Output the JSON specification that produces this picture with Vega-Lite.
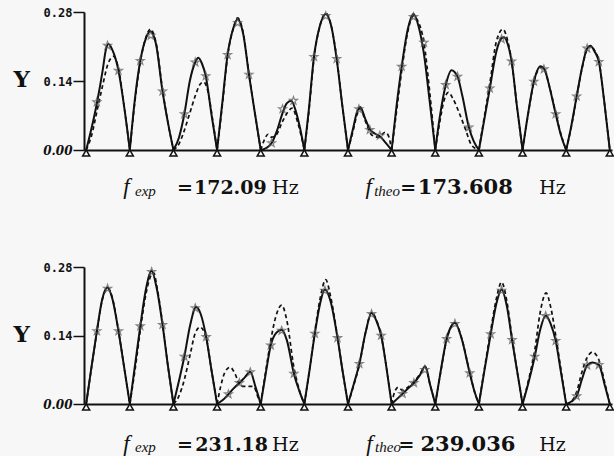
{
 "$schema": "https://vega.github.io/schema/vega-lite/v6.json",
 "background": "#f7f7f7",
 "padding": {"left": 13, "top": 6, "right": 0, "bottom": 0},
 "bounds": "flush",
 "spacing": 117,
 "config": {"view": {"stroke": null}},
 "datasets": {
  "topCurves": [
   {"s":"S","a":1,"x":0,"y":0},{"s":"S","a":1,"x":0.125,"y":0.045},{"s":"S","a":1,"x":0.25,"y":0.097},{"s":"S","a":1,"x":0.375,"y":0.16},{"s":"S","a":1,"x":0.45,"y":0.203},{"s":"S","a":1,"x":0.51,"y":0.215},{"s":"S","a":1,"x":0.6,"y":0.203},{"s":"S","a":1,"x":0.74,"y":0.161},{"s":"S","a":1,"x":0.875,"y":0.085},{"s":"S","a":1,"x":1,"y":0},
   {"s":"S","a":2,"x":1,"y":0},{"s":"S","a":2,"x":1.125,"y":0.11},{"s":"S","a":2,"x":1.24,"y":0.181},{"s":"S","a":2,"x":1.375,"y":0.228},{"s":"S","a":2,"x":1.47,"y":0.241},{"s":"S","a":2,"x":1.6,"y":0.215},{"s":"S","a":2,"x":1.75,"y":0.119},{"s":"S","a":2,"x":1.875,"y":0.055},{"s":"S","a":2,"x":2,"y":0},
   {"s":"S","a":3,"x":2,"y":0},{"s":"S","a":3,"x":2.125,"y":0.025},{"s":"S","a":3,"x":2.25,"y":0.073},{"s":"S","a":3,"x":2.375,"y":0.14},{"s":"S","a":3,"x":2.5,"y":0.178},{"s":"S","a":3,"x":2.57,"y":0.187},{"s":"S","a":3,"x":2.65,"y":0.176},{"s":"S","a":3,"x":2.74,"y":0.15},{"s":"S","a":3,"x":2.875,"y":0.07},{"s":"S","a":3,"x":3,"y":0},
   {"s":"S","a":4,"x":3,"y":0},{"s":"S","a":4,"x":3.125,"y":0.1},{"s":"S","a":4,"x":3.24,"y":0.193},{"s":"S","a":4,"x":3.375,"y":0.248},{"s":"S","a":4,"x":3.47,"y":0.266},{"s":"S","a":4,"x":3.6,"y":0.235},{"s":"S","a":4,"x":3.73,"y":0.153},{"s":"S","a":4,"x":3.875,"y":0.07},{"s":"S","a":4,"x":4,"y":0},
   {"s":"S","a":5,"x":4,"y":0},{"s":"S","a":5,"x":4.125,"y":0.004},{"s":"S","a":5,"x":4.25,"y":0.014},{"s":"S","a":5,"x":4.375,"y":0.04},{"s":"S","a":5,"x":4.5,"y":0.075},{"s":"S","a":5,"x":4.6,"y":0.095},{"s":"S","a":5,"x":4.7,"y":0.1},{"s":"S","a":5,"x":4.8,"y":0.08},{"s":"S","a":5,"x":4.9,"y":0.045},{"s":"S","a":5,"x":5,"y":0},
   {"s":"S","a":6,"x":5,"y":0},{"s":"S","a":6,"x":5.1,"y":0.08},{"s":"S","a":6,"x":5.22,"y":0.189},{"s":"S","a":6,"x":5.35,"y":0.25},{"s":"S","a":6,"x":5.49,"y":0.276},{"s":"S","a":6,"x":5.62,"y":0.25},{"s":"S","a":6,"x":5.74,"y":0.185},{"s":"S","a":6,"x":5.87,"y":0.09},{"s":"S","a":6,"x":6,"y":0},
   {"s":"S","a":7,"x":6,"y":0},{"s":"S","a":7,"x":6.12,"y":0.045},{"s":"S","a":7,"x":6.2,"y":0.075},{"s":"S","a":7,"x":6.28,"y":0.087},{"s":"S","a":7,"x":6.4,"y":0.062},{"s":"S","a":7,"x":6.5,"y":0.042},{"s":"S","a":7,"x":6.62,"y":0.033},{"s":"S","a":7,"x":6.73,"y":0.028},{"s":"S","a":7,"x":6.86,"y":0.015},{"s":"S","a":7,"x":7,"y":0},
   {"s":"S","a":8,"x":7,"y":0},{"s":"S","a":8,"x":7.1,"y":0.08},{"s":"S","a":8,"x":7.23,"y":0.169},{"s":"S","a":8,"x":7.37,"y":0.245},{"s":"S","a":8,"x":7.5,"y":0.276},{"s":"S","a":8,"x":7.62,"y":0.25},{"s":"S","a":8,"x":7.74,"y":0.195},{"s":"S","a":8,"x":7.87,"y":0.1},{"s":"S","a":8,"x":8,"y":0},
   {"s":"S","a":9,"x":8,"y":0},{"s":"S","a":9,"x":8.1,"y":0.065},{"s":"S","a":9,"x":8.24,"y":0.132},{"s":"S","a":9,"x":8.37,"y":0.162},{"s":"S","a":9,"x":8.51,"y":0.149},{"s":"S","a":9,"x":8.62,"y":0.11},{"s":"S","a":9,"x":8.77,"y":0.046},{"s":"S","a":9,"x":8.88,"y":0.018},{"s":"S","a":9,"x":9,"y":0},
   {"s":"S","a":10,"x":9,"y":0},{"s":"S","a":10,"x":9.12,"y":0.06},{"s":"S","a":10,"x":9.25,"y":0.125},{"s":"S","a":10,"x":9.4,"y":0.2},{"s":"S","a":10,"x":9.52,"y":0.227},{"s":"S","a":10,"x":9.58,"y":0.229},{"s":"S","a":10,"x":9.66,"y":0.215},{"s":"S","a":10,"x":9.75,"y":0.18},{"s":"S","a":10,"x":9.87,"y":0.09},{"s":"S","a":10,"x":10,"y":0},
   {"s":"S","a":11,"x":10,"y":0},{"s":"S","a":11,"x":10.12,"y":0.07},{"s":"S","a":11,"x":10.26,"y":0.139},{"s":"S","a":11,"x":10.41,"y":0.17},{"s":"S","a":11,"x":10.5,"y":0.164},{"s":"S","a":11,"x":10.62,"y":0.127},{"s":"S","a":11,"x":10.76,"y":0.073},{"s":"S","a":11,"x":10.88,"y":0.03},{"s":"S","a":11,"x":11,"y":0},
   {"s":"S","a":12,"x":11,"y":0},{"s":"S","a":12,"x":11.12,"y":0.05},{"s":"S","a":12,"x":11.24,"y":0.109},{"s":"S","a":12,"x":11.37,"y":0.17},{"s":"S","a":12,"x":11.48,"y":0.206},{"s":"S","a":12,"x":11.56,"y":0.211},{"s":"S","a":12,"x":11.65,"y":0.2},{"s":"S","a":12,"x":11.75,"y":0.179},{"s":"S","a":12,"x":11.87,"y":0.1},{"s":"S","a":12,"x":12,"y":0},
   {"s":"D","a":1,"x":0,"y":0},{"s":"D","a":1,"x":0.125,"y":0.03},{"s":"D","a":1,"x":0.25,"y":0.08},{"s":"D","a":1,"x":0.375,"y":0.13},{"s":"D","a":1,"x":0.5,"y":0.175},{"s":"D","a":1,"x":0.63,"y":0.19},{"s":"D","a":1,"x":0.74,"y":0.165},{"s":"D","a":1,"x":0.875,"y":0.085},{"s":"D","a":1,"x":1,"y":0},
   {"s":"D","a":2,"x":1,"y":0},{"s":"D","a":2,"x":1.125,"y":0.105},{"s":"D","a":2,"x":1.24,"y":0.178},{"s":"D","a":2,"x":1.375,"y":0.23},{"s":"D","a":2,"x":1.47,"y":0.245},{"s":"D","a":2,"x":1.6,"y":0.218},{"s":"D","a":2,"x":1.75,"y":0.122},{"s":"D","a":2,"x":1.875,"y":0.055},{"s":"D","a":2,"x":2,"y":0},
   {"s":"D","a":3,"x":2,"y":0},{"s":"D","a":3,"x":2.125,"y":0.012},{"s":"D","a":3,"x":2.25,"y":0.04},{"s":"D","a":3,"x":2.375,"y":0.075},{"s":"D","a":3,"x":2.5,"y":0.11},{"s":"D","a":3,"x":2.6,"y":0.132},{"s":"D","a":3,"x":2.69,"y":0.138},{"s":"D","a":3,"x":2.8,"y":0.115},{"s":"D","a":3,"x":2.9,"y":0.06},{"s":"D","a":3,"x":3,"y":0},
   {"s":"D","a":4,"x":3,"y":0},{"s":"D","a":4,"x":3.125,"y":0.095},{"s":"D","a":4,"x":3.24,"y":0.19},{"s":"D","a":4,"x":3.375,"y":0.248},{"s":"D","a":4,"x":3.47,"y":0.268},{"s":"D","a":4,"x":3.6,"y":0.237},{"s":"D","a":4,"x":3.73,"y":0.155},{"s":"D","a":4,"x":3.875,"y":0.07},{"s":"D","a":4,"x":4,"y":0},
   {"s":"D","a":5,"x":4,"y":0},{"s":"D","a":5,"x":4.08,"y":0.02},{"s":"D","a":5,"x":4.17,"y":0.032},{"s":"D","a":5,"x":4.25,"y":0.026},{"s":"D","a":5,"x":4.35,"y":0.03},{"s":"D","a":5,"x":4.5,"y":0.058},{"s":"D","a":5,"x":4.62,"y":0.077},{"s":"D","a":5,"x":4.72,"y":0.085},{"s":"D","a":5,"x":4.85,"y":0.055},{"s":"D","a":5,"x":5,"y":0},
   {"s":"D","a":6,"x":5,"y":0},{"s":"D","a":6,"x":5.1,"y":0.075},{"s":"D","a":6,"x":5.22,"y":0.185},{"s":"D","a":6,"x":5.35,"y":0.25},{"s":"D","a":6,"x":5.5,"y":0.277},{"s":"D","a":6,"x":5.62,"y":0.25},{"s":"D","a":6,"x":5.74,"y":0.187},{"s":"D","a":6,"x":5.87,"y":0.09},{"s":"D","a":6,"x":6,"y":0},
   {"s":"D","a":7,"x":6,"y":0},{"s":"D","a":7,"x":6.12,"y":0.04},{"s":"D","a":7,"x":6.2,"y":0.07},{"s":"D","a":7,"x":6.28,"y":0.084},{"s":"D","a":7,"x":6.4,"y":0.058},{"s":"D","a":7,"x":6.55,"y":0.03},{"s":"D","a":7,"x":6.7,"y":0.026},{"s":"D","a":7,"x":6.85,"y":0.036},{"s":"D","a":7,"x":6.93,"y":0.028},{"s":"D","a":7,"x":7,"y":0},
   {"s":"D","a":8,"x":7,"y":0},{"s":"D","a":8,"x":7.1,"y":0.07},{"s":"D","a":8,"x":7.23,"y":0.16},{"s":"D","a":8,"x":7.37,"y":0.24},{"s":"D","a":8,"x":7.5,"y":0.272},{"s":"D","a":8,"x":7.6,"y":0.262},{"s":"D","a":8,"x":7.74,"y":0.218},{"s":"D","a":8,"x":7.87,"y":0.12},{"s":"D","a":8,"x":8,"y":0},
   {"s":"D","a":9,"x":8,"y":0},{"s":"D","a":9,"x":8.1,"y":0.055},{"s":"D","a":9,"x":8.2,"y":0.1},{"s":"D","a":9,"x":8.3,"y":0.117},{"s":"D","a":9,"x":8.4,"y":0.105},{"s":"D","a":9,"x":8.55,"y":0.075},{"s":"D","a":9,"x":8.7,"y":0.04},{"s":"D","a":9,"x":8.83,"y":0.01},{"s":"D","a":9,"x":9,"y":0},
   {"s":"D","a":10,"x":9,"y":0},{"s":"D","a":10,"x":9.12,"y":0.065},{"s":"D","a":10,"x":9.25,"y":0.135},{"s":"D","a":10,"x":9.4,"y":0.22},{"s":"D","a":10,"x":9.55,"y":0.245},{"s":"D","a":10,"x":9.65,"y":0.225},{"s":"D","a":10,"x":9.75,"y":0.18},{"s":"D","a":10,"x":9.87,"y":0.09},{"s":"D","a":10,"x":10,"y":0},
   {"s":"D","a":11,"x":10,"y":0},{"s":"D","a":11,"x":10.12,"y":0.068},{"s":"D","a":11,"x":10.26,"y":0.137},{"s":"D","a":11,"x":10.41,"y":0.168},{"s":"D","a":11,"x":10.5,"y":0.163},{"s":"D","a":11,"x":10.62,"y":0.128},{"s":"D","a":11,"x":10.76,"y":0.075},{"s":"D","a":11,"x":10.88,"y":0.032},{"s":"D","a":11,"x":11,"y":0},
   {"s":"D","a":12,"x":11,"y":0},{"s":"D","a":12,"x":11.12,"y":0.048},{"s":"D","a":12,"x":11.24,"y":0.107},{"s":"D","a":12,"x":11.37,"y":0.168},{"s":"D","a":12,"x":11.48,"y":0.205},{"s":"D","a":12,"x":11.56,"y":0.212},{"s":"D","a":12,"x":11.65,"y":0.202},{"s":"D","a":12,"x":11.75,"y":0.18},{"s":"D","a":12,"x":11.87,"y":0.1},{"s":"D","a":12,"x":12,"y":0}
  ],
  "botCurves": [
   {"s":"S","a":1,"x":0,"y":0},{"s":"S","a":1,"x":0.12,"y":0.075},{"s":"S","a":1,"x":0.245,"y":0.149},{"s":"S","a":1,"x":0.37,"y":0.215},{"s":"S","a":1,"x":0.49,"y":0.238},{"s":"S","a":1,"x":0.6,"y":0.215},{"s":"S","a":1,"x":0.74,"y":0.149},{"s":"S","a":1,"x":0.87,"y":0.075},{"s":"S","a":1,"x":1,"y":0},
   {"s":"S","a":2,"x":1,"y":0},{"s":"S","a":2,"x":1.12,"y":0.08},{"s":"S","a":2,"x":1.24,"y":0.159},{"s":"S","a":2,"x":1.37,"y":0.235},{"s":"S","a":2,"x":1.5,"y":0.272},{"s":"S","a":2,"x":1.62,"y":0.235},{"s":"S","a":2,"x":1.75,"y":0.162},{"s":"S","a":2,"x":1.87,"y":0.08},{"s":"S","a":2,"x":2,"y":0},
   {"s":"S","a":3,"x":2,"y":0},{"s":"S","a":3,"x":2.12,"y":0.045},{"s":"S","a":3,"x":2.25,"y":0.097},{"s":"S","a":3,"x":2.38,"y":0.16},{"s":"S","a":3,"x":2.52,"y":0.198},{"s":"S","a":3,"x":2.62,"y":0.185},{"s":"S","a":3,"x":2.75,"y":0.137},{"s":"S","a":3,"x":2.87,"y":0.07},{"s":"S","a":3,"x":3,"y":0},
   {"s":"S","a":4,"x":3,"y":0},{"s":"S","a":4,"x":3.13,"y":0.008},{"s":"S","a":4,"x":3.26,"y":0.02},{"s":"S","a":4,"x":3.38,"y":0.032},{"s":"S","a":4,"x":3.51,"y":0.043},{"s":"S","a":4,"x":3.64,"y":0.055},{"s":"S","a":4,"x":3.76,"y":0.066},{"s":"S","a":4,"x":3.88,"y":0.035},{"s":"S","a":4,"x":4,"y":0},
   {"s":"S","a":5,"x":4,"y":0},{"s":"S","a":5,"x":4.12,"y":0.065},{"s":"S","a":5,"x":4.23,"y":0.12},{"s":"S","a":5,"x":4.35,"y":0.145},{"s":"S","a":5,"x":4.48,"y":0.152},{"s":"S","a":5,"x":4.6,"y":0.13},{"s":"S","a":5,"x":4.76,"y":0.062},{"s":"S","a":5,"x":4.88,"y":0.028},{"s":"S","a":5,"x":5,"y":0},
   {"s":"S","a":6,"x":5,"y":0},{"s":"S","a":6,"x":5.12,"y":0.07},{"s":"S","a":6,"x":5.24,"y":0.144},{"s":"S","a":6,"x":5.36,"y":0.205},{"s":"S","a":6,"x":5.47,"y":0.234},{"s":"S","a":6,"x":5.6,"y":0.21},{"s":"S","a":6,"x":5.76,"y":0.135},{"s":"S","a":6,"x":5.88,"y":0.065},{"s":"S","a":6,"x":6,"y":0},
   {"s":"S","a":7,"x":6,"y":0},{"s":"S","a":7,"x":6.13,"y":0.04},{"s":"S","a":7,"x":6.26,"y":0.082},{"s":"S","a":7,"x":6.4,"y":0.145},{"s":"S","a":7,"x":6.54,"y":0.186},{"s":"S","a":7,"x":6.65,"y":0.17},{"s":"S","a":7,"x":6.76,"y":0.14},{"s":"S","a":7,"x":6.88,"y":0.075},{"s":"S","a":7,"x":7,"y":0},
   {"s":"S","a":8,"x":7,"y":0},{"s":"S","a":8,"x":7.12,"y":0.01},{"s":"S","a":8,"x":7.25,"y":0.021},{"s":"S","a":8,"x":7.38,"y":0.032},{"s":"S","a":8,"x":7.51,"y":0.043},{"s":"S","a":8,"x":7.64,"y":0.058},{"s":"S","a":8,"x":7.77,"y":0.077},{"s":"S","a":8,"x":7.88,"y":0.04},{"s":"S","a":8,"x":8,"y":0},
   {"s":"S","a":9,"x":8,"y":0},{"s":"S","a":9,"x":8.12,"y":0.065},{"s":"S","a":9,"x":8.26,"y":0.133},{"s":"S","a":9,"x":8.36,"y":0.158},{"s":"S","a":9,"x":8.45,"y":0.166},{"s":"S","a":9,"x":8.6,"y":0.135},{"s":"S","a":9,"x":8.79,"y":0.063},{"s":"S","a":9,"x":8.9,"y":0.025},{"s":"S","a":9,"x":9,"y":0},
   {"s":"S","a":10,"x":9,"y":0},{"s":"S","a":10,"x":9.12,"y":0.065},{"s":"S","a":10,"x":9.27,"y":0.143},{"s":"S","a":10,"x":9.4,"y":0.205},{"s":"S","a":10,"x":9.52,"y":0.234},{"s":"S","a":10,"x":9.64,"y":0.2},{"s":"S","a":10,"x":9.76,"y":0.131},{"s":"S","a":10,"x":9.88,"y":0.065},{"s":"S","a":10,"x":10,"y":0},
   {"s":"S","a":11,"x":10,"y":0},{"s":"S","a":11,"x":10.14,"y":0.045},{"s":"S","a":11,"x":10.28,"y":0.097},{"s":"S","a":11,"x":10.4,"y":0.15},{"s":"S","a":11,"x":10.53,"y":0.181},{"s":"S","a":11,"x":10.64,"y":0.165},{"s":"S","a":11,"x":10.76,"y":0.129},{"s":"S","a":11,"x":10.88,"y":0.065},{"s":"S","a":11,"x":11,"y":0},
   {"s":"S","a":12,"x":11,"y":0},{"s":"S","a":12,"x":11.12,"y":0.005},{"s":"S","a":12,"x":11.24,"y":0.016},{"s":"S","a":12,"x":11.36,"y":0.05},{"s":"S","a":12,"x":11.48,"y":0.079},{"s":"S","a":12,"x":11.6,"y":0.085},{"s":"S","a":12,"x":11.75,"y":0.08},{"s":"S","a":12,"x":11.88,"y":0.04},{"s":"S","a":12,"x":12,"y":0},
   {"s":"D","a":1,"x":0,"y":0},{"s":"D","a":1,"x":0.12,"y":0.073},{"s":"D","a":1,"x":0.245,"y":0.147},{"s":"D","a":1,"x":0.37,"y":0.213},{"s":"D","a":1,"x":0.5,"y":0.237},{"s":"D","a":1,"x":0.6,"y":0.217},{"s":"D","a":1,"x":0.74,"y":0.15},{"s":"D","a":1,"x":0.87,"y":0.075},{"s":"D","a":1,"x":1,"y":0},
   {"s":"D","a":2,"x":1,"y":0},{"s":"D","a":2,"x":1.12,"y":0.07},{"s":"D","a":2,"x":1.24,"y":0.15},{"s":"D","a":2,"x":1.37,"y":0.225},{"s":"D","a":2,"x":1.5,"y":0.265},{"s":"D","a":2,"x":1.55,"y":0.268},{"s":"D","a":2,"x":1.62,"y":0.24},{"s":"D","a":2,"x":1.75,"y":0.165},{"s":"D","a":2,"x":1.87,"y":0.08},{"s":"D","a":2,"x":2,"y":0},
   {"s":"D","a":3,"x":2,"y":0},{"s":"D","a":3,"x":2.12,"y":0.015},{"s":"D","a":3,"x":2.25,"y":0.05},{"s":"D","a":3,"x":2.38,"y":0.1},{"s":"D","a":3,"x":2.5,"y":0.145},{"s":"D","a":3,"x":2.61,"y":0.157},{"s":"D","a":3,"x":2.75,"y":0.135},{"s":"D","a":3,"x":2.87,"y":0.07},{"s":"D","a":3,"x":3,"y":0},
   {"s":"D","a":4,"x":3,"y":0},{"s":"D","a":4,"x":3.08,"y":0.035},{"s":"D","a":4,"x":3.18,"y":0.065},{"s":"D","a":4,"x":3.3,"y":0.075},{"s":"D","a":4,"x":3.42,"y":0.06},{"s":"D","a":4,"x":3.53,"y":0.037},{"s":"D","a":4,"x":3.7,"y":0.036},{"s":"D","a":4,"x":3.84,"y":0.036},{"s":"D","a":4,"x":3.92,"y":0.018},{"s":"D","a":4,"x":4,"y":0},
   {"s":"D","a":5,"x":4,"y":0},{"s":"D","a":5,"x":4.12,"y":0.07},{"s":"D","a":5,"x":4.23,"y":0.13},{"s":"D","a":5,"x":4.35,"y":0.18},{"s":"D","a":5,"x":4.48,"y":0.202},{"s":"D","a":5,"x":4.6,"y":0.17},{"s":"D","a":5,"x":4.76,"y":0.075},{"s":"D","a":5,"x":4.88,"y":0.03},{"s":"D","a":5,"x":5,"y":0},
   {"s":"D","a":6,"x":5,"y":0},{"s":"D","a":6,"x":5.12,"y":0.07},{"s":"D","a":6,"x":5.24,"y":0.148},{"s":"D","a":6,"x":5.36,"y":0.215},{"s":"D","a":6,"x":5.49,"y":0.254},{"s":"D","a":6,"x":5.6,"y":0.22},{"s":"D","a":6,"x":5.76,"y":0.137},{"s":"D","a":6,"x":5.88,"y":0.065},{"s":"D","a":6,"x":6,"y":0},
   {"s":"D","a":7,"x":6,"y":0},{"s":"D","a":7,"x":6.13,"y":0.038},{"s":"D","a":7,"x":6.26,"y":0.08},{"s":"D","a":7,"x":6.4,"y":0.145},{"s":"D","a":7,"x":6.54,"y":0.187},{"s":"D","a":7,"x":6.65,"y":0.172},{"s":"D","a":7,"x":6.76,"y":0.14},{"s":"D","a":7,"x":6.88,"y":0.075},{"s":"D","a":7,"x":7,"y":0},
   {"s":"D","a":8,"x":7,"y":0},{"s":"D","a":8,"x":7.07,"y":0.025},{"s":"D","a":8,"x":7.15,"y":0.034},{"s":"D","a":8,"x":7.25,"y":0.028},{"s":"D","a":8,"x":7.38,"y":0.035},{"s":"D","a":8,"x":7.51,"y":0.045},{"s":"D","a":8,"x":7.64,"y":0.06},{"s":"D","a":8,"x":7.77,"y":0.075},{"s":"D","a":8,"x":7.88,"y":0.04},{"s":"D","a":8,"x":8,"y":0},
   {"s":"D","a":9,"x":8,"y":0},{"s":"D","a":9,"x":8.12,"y":0.063},{"s":"D","a":9,"x":8.26,"y":0.131},{"s":"D","a":9,"x":8.36,"y":0.157},{"s":"D","a":9,"x":8.46,"y":0.165},{"s":"D","a":9,"x":8.6,"y":0.136},{"s":"D","a":9,"x":8.79,"y":0.064},{"s":"D","a":9,"x":8.9,"y":0.025},{"s":"D","a":9,"x":9,"y":0},
   {"s":"D","a":10,"x":9,"y":0},{"s":"D","a":10,"x":9.12,"y":0.068},{"s":"D","a":10,"x":9.27,"y":0.15},{"s":"D","a":10,"x":9.4,"y":0.215},{"s":"D","a":10,"x":9.52,"y":0.249},{"s":"D","a":10,"x":9.64,"y":0.21},{"s":"D","a":10,"x":9.76,"y":0.135},{"s":"D","a":10,"x":9.88,"y":0.065},{"s":"D","a":10,"x":10,"y":0},
   {"s":"D","a":11,"x":10,"y":0},{"s":"D","a":11,"x":10.14,"y":0.05},{"s":"D","a":11,"x":10.28,"y":0.11},{"s":"D","a":11,"x":10.4,"y":0.185},{"s":"D","a":11,"x":10.54,"y":0.227},{"s":"D","a":11,"x":10.64,"y":0.2},{"s":"D","a":11,"x":10.76,"y":0.14},{"s":"D","a":11,"x":10.88,"y":0.07},{"s":"D","a":11,"x":11,"y":0},
   {"s":"D","a":12,"x":11,"y":0},{"s":"D","a":12,"x":11.12,"y":0.005},{"s":"D","a":12,"x":11.24,"y":0.025},{"s":"D","a":12,"x":11.36,"y":0.065},{"s":"D","a":12,"x":11.48,"y":0.095},{"s":"D","a":12,"x":11.6,"y":0.106},{"s":"D","a":12,"x":11.75,"y":0.09},{"s":"D","a":12,"x":11.88,"y":0.045},{"s":"D","a":12,"x":12,"y":0}
  ],
  "topStars": [
   {"x":0.245,"y":0.097},{"x":0.49,"y":0.212},{"x":0.74,"y":0.161},
   {"x":1.24,"y":0.181},{"x":1.48,"y":0.232},{"x":1.75,"y":0.119},
   {"x":2.25,"y":0.073},{"x":2.5,"y":0.178},{"x":2.74,"y":0.15},
   {"x":3.24,"y":0.193},{"x":3.47,"y":0.258},{"x":3.73,"y":0.153},
   {"x":4.25,"y":0.014},{"x":4.5,"y":0.083},{"x":4.75,"y":0.1},
   {"x":5.22,"y":0.189},{"x":5.49,"y":0.272},{"x":5.74,"y":0.185},
   {"x":6.25,"y":0.083},{"x":6.5,"y":0.041},{"x":6.73,"y":0.029},
   {"x":7.23,"y":0.169},{"x":7.5,"y":0.27},{"x":7.74,"y":0.218},
   {"x":8.24,"y":0.132},{"x":8.51,"y":0.149},{"x":8.77,"y":0.046},
   {"x":9.25,"y":0.125},{"x":9.52,"y":0.225},{"x":9.75,"y":0.18},
   {"x":10.26,"y":0.139},{"x":10.49,"y":0.164},{"x":10.76,"y":0.073},
   {"x":11.24,"y":0.109},{"x":11.48,"y":0.206},{"x":11.75,"y":0.179}
  ],
  "botStars": [
   {"x":0.245,"y":0.149},{"x":0.49,"y":0.236},{"x":0.74,"y":0.149},
   {"x":1.24,"y":0.159},{"x":1.5,"y":0.27},{"x":1.75,"y":0.162},
   {"x":2.25,"y":0.097},{"x":2.5,"y":0.196},{"x":2.75,"y":0.137},
   {"x":3.26,"y":0.02},{"x":3.51,"y":0.043},{"x":3.76,"y":0.065},
   {"x":4.23,"y":0.12},{"x":4.48,"y":0.15},{"x":4.76,"y":0.062},
   {"x":5.24,"y":0.144},{"x":5.47,"y":0.232},{"x":5.76,"y":0.135},
   {"x":6.26,"y":0.082},{"x":6.54,"y":0.184},{"x":6.76,"y":0.14},
   {"x":7.25,"y":0.021},{"x":7.51,"y":0.043},{"x":7.76,"y":0.07},
   {"x":8.26,"y":0.133},{"x":8.45,"y":0.164},{"x":8.79,"y":0.063},
   {"x":9.27,"y":0.143},{"x":9.52,"y":0.232},{"x":9.76,"y":0.131},
   {"x":10.28,"y":0.097},{"x":10.53,"y":0.18},{"x":10.76,"y":0.129},
   {"x":11.24,"y":0.016},{"x":11.48,"y":0.079},{"x":11.75,"y":0.08}
  ],
  "zeros": [
   {"x":0,"y":0},{"x":1,"y":0},{"x":2,"y":0},{"x":3,"y":0},{"x":4,"y":0},{"x":5,"y":0},{"x":6,"y":0},
   {"x":7,"y":0},{"x":8,"y":0},{"x":9,"y":0},{"x":10,"y":0},{"x":11,"y":0},{"x":12,"y":0}
  ],
  "topText": [
   {"k":"f","t":"f","x":0.85,"y":-0.09},
   {"k":"sub","t":"exp","x":1.12,"y":-0.093},
   {"k":"b","t":"=","x":2.08,"y":-0.09},
   {"k":"b","t":"172.09","x":2.47,"y":-0.09},
   {"k":"r","t":"Hz","x":4.26,"y":-0.09},
   {"k":"f","t":"f","x":6.4,"y":-0.09},
   {"k":"sub","t":"theo","x":6.6,"y":-0.093},
   {"k":"b","t":"=","x":7.2,"y":-0.09},
   {"k":"w","t":"173.608","x":7.6,"y":-0.09},
   {"k":"r","t":"Hz","x":10.38,"y":-0.09}
  ],
  "botText": [
   {"k":"f","t":"f","x":0.85,"y":-0.0954},
   {"k":"sub","t":"exp","x":1.12,"y":-0.0984},
   {"k":"b","t":"=","x":2.08,"y":-0.0954},
   {"k":"b","t":"231.18","x":2.5,"y":-0.0954},
   {"k":"r","t":"Hz","x":4.26,"y":-0.0954},
   {"k":"f","t":"f","x":6.42,"y":-0.0954},
   {"k":"sub","t":"theo","x":6.62,"y":-0.0984},
   {"k":"b","t":"=","x":7.16,"y":-0.0954},
   {"k":"w","t":"239.036","x":7.66,"y":-0.0954},
   {"k":"r","t":"Hz","x":10.38,"y":-0.0954}
  ]
 },
 "vconcat": [
  {
   "width": 528, "height": 138,
   "layer": [
    {
     "data": {"name": "topCurves"},
     "transform": [{"filter": "datum.s == 'S'"}],
     "mark": {"type": "line", "interpolate": "monotone", "color": "#111", "strokeWidth": 2},
     "encoding": {
      "x": {"field": "x", "type": "quantitative", "scale": {"domain": [-0.05, 12.05], "nice": false, "zero": false},
            "axis": {"title": null, "labels": false, "ticks": false, "grid": false, "domain": true, "domainColor": "#111", "domainWidth": 2}},
      "y": {"field": "y", "type": "quantitative", "scale": {"domain": [0, 0.28], "nice": false},
            "axis": {"values": [0, 0.07, 0.14, 0.21, 0.28], "grid": false,
                     "domainColor": "#111", "domainWidth": 2, "tickColor": "#111", "tickWidth": 1.5,
                     "tickSize": {"condition": {"test": "datum.value == 0.07 || datum.value == 0.21", "value": 5}, "value": 11},
                     "labelExpr": "datum.value == 0.07 || datum.value == 0.21 ? '' : datum.value == 0.14 ? '0.14\u00a0' : format(datum.value, '.2f')",
                     "labelColor": "#111", "labelFontSize": 12, "labelFontWeight": "bold", "labelPadding": 1,
                     "labelFont": {"condition": {"test": "datum.value == 0", "value": "DejaVu Serif"}, "value": "DejaVu Sans Mono"},
                     "labelFontStyle": {"condition": {"test": "datum.value == 0", "value": "italic"}, "value": "normal"},
                     "title": "Y", "titleAngle": 0, "titleFont": "DejaVu Serif", "titleFontSize": 23, "titleFontWeight": "bold", "titleColor": "#111",
                     "titleAlign": "left", "titleBaseline": "alphabetic", "titleX": -71, "titleY": 74}},
      "detail": {"field": "a", "type": "nominal"}
     }
    },
    {
     "data": {"name": "topCurves"},
     "transform": [{"filter": "datum.s == 'D'"}],
     "mark": {"type": "line", "interpolate": "monotone", "color": "#111", "strokeWidth": 1.7, "strokeDash": [4, 3]},
     "encoding": {"x": {"field": "x", "type": "quantitative"}, "y": {"field": "y", "type": "quantitative"}, "detail": {"field": "a", "type": "nominal"}}
    },
    {
     "data": {"name": "topStars"},
     "mark": {"type": "point", "shape": "M0,-1L0.24,-0.33L0.95,-0.31L0.38,0.12L0.59,0.81L0,0.4L-0.59,0.81L-0.38,0.12L-0.95,-0.31L-0.24,-0.33Z", "size": 70, "filled": false, "stroke": "#555", "strokeWidth": 1.2},
     "encoding": {"x": {"field": "x", "type": "quantitative"}, "y": {"field": "y", "type": "quantitative"}}
    },
    {
     "data": {"name": "zeros"},
     "mark": {"type": "point", "shape": "triangle-up", "size": 50, "filled": true, "fill": "#f7f7f7", "stroke": "#111", "strokeWidth": 1.5, "yOffset": 3, "opacity": 1},
     "encoding": {"x": {"field": "x", "type": "quantitative"}, "y": {"field": "y", "type": "quantitative"}}
    },
    {
     "data": {"name": "topText"},
     "transform": [{"filter": "datum.k == 'f'"}],
     "mark": {"type": "text", "align": "left", "baseline": "alphabetic", "font": "Liberation Serif", "fontStyle": "italic", "fontSize": 23, "color": "#111"},
     "encoding": {"x": {"field": "x", "type": "quantitative"}, "y": {"field": "y", "type": "quantitative"}, "text": {"field": "t", "type": "nominal"}}
    },
    {
     "data": {"name": "topText"},
     "transform": [{"filter": "datum.k == 'sub'"}],
     "mark": {"type": "text", "align": "left", "baseline": "alphabetic", "font": "Liberation Serif", "fontStyle": "italic", "fontSize": 15, "color": "#111"},
     "encoding": {"x": {"field": "x", "type": "quantitative"}, "y": {"field": "y", "type": "quantitative"}, "text": {"field": "t", "type": "nominal"}}
    },
    {
     "data": {"name": "topText"},
     "transform": [{"filter": "datum.k == 'b'"}],
     "mark": {"type": "text", "align": "left", "baseline": "alphabetic", "font": "DejaVu Serif", "fontWeight": "bold", "fontSize": 19, "color": "#111"},
     "encoding": {"x": {"field": "x", "type": "quantitative"}, "y": {"field": "y", "type": "quantitative"}, "text": {"field": "t", "type": "nominal"}}
    },
    {
     "data": {"name": "topText"},
     "transform": [{"filter": "datum.k == 'w'"}],
     "mark": {"type": "text", "align": "left", "baseline": "alphabetic", "font": "DejaVu Serif", "fontWeight": "bold", "fontSize": 21, "color": "#111"},
     "encoding": {"x": {"field": "x", "type": "quantitative"}, "y": {"field": "y", "type": "quantitative"}, "text": {"field": "t", "type": "nominal"}}
    },
    {
     "data": {"name": "topText"},
     "transform": [{"filter": "datum.k == 'r'"}],
     "mark": {"type": "text", "align": "left", "baseline": "alphabetic", "font": "DejaVu Serif", "fontSize": 19, "color": "#111"},
     "encoding": {"x": {"field": "x", "type": "quantitative"}, "y": {"field": "y", "type": "quantitative"}, "text": {"field": "t", "type": "nominal"}}
    }
   ]
  },
  {
   "width": 528, "height": 137,
   "layer": [
    {
     "data": {"name": "botCurves"},
     "transform": [{"filter": "datum.s == 'S'"}],
     "mark": {"type": "line", "interpolate": "monotone", "color": "#111", "strokeWidth": 2},
     "encoding": {
      "x": {"field": "x", "type": "quantitative", "scale": {"domain": [-0.05, 12.05], "nice": false, "zero": false},
            "axis": {"title": null, "labels": false, "ticks": false, "grid": false, "domain": true, "domainColor": "#111", "domainWidth": 2}},
      "y": {"field": "y", "type": "quantitative", "scale": {"domain": [0, 0.28], "nice": false},
            "axis": {"values": [0, 0.07, 0.14, 0.21, 0.28], "grid": false,
                     "domainColor": "#111", "domainWidth": 2, "tickColor": "#111", "tickWidth": 1.5,
                     "tickSize": {"condition": {"test": "datum.value == 0.07 || datum.value == 0.21", "value": 5}, "value": 11},
                     "labelExpr": "datum.value == 0.07 || datum.value == 0.21 ? '' : datum.value == 0.14 ? '0.14\u00a0' : format(datum.value, '.2f')",
                     "labelColor": "#111", "labelFontSize": 12, "labelFontWeight": "bold", "labelPadding": 1,
                     "labelFont": {"condition": {"test": "datum.value == 0", "value": "DejaVu Serif"}, "value": "DejaVu Sans Mono"},
                     "labelFontStyle": {"condition": {"test": "datum.value == 0", "value": "italic"}, "value": "normal"},
                     "title": "Y", "titleAngle": 0, "titleFont": "DejaVu Serif", "titleFontSize": 23, "titleFontWeight": "bold", "titleColor": "#111",
                     "titleAlign": "left", "titleBaseline": "alphabetic", "titleX": -71, "titleY": 74}},
      "detail": {"field": "a", "type": "nominal"}
     }
    },
    {
     "data": {"name": "botCurves"},
     "transform": [{"filter": "datum.s == 'D'"}],
     "mark": {"type": "line", "interpolate": "monotone", "color": "#111", "strokeWidth": 1.7, "strokeDash": [4, 3]},
     "encoding": {"x": {"field": "x", "type": "quantitative"}, "y": {"field": "y", "type": "quantitative"}, "detail": {"field": "a", "type": "nominal"}}
    },
    {
     "data": {"name": "botStars"},
     "mark": {"type": "point", "shape": "M0,-1L0.24,-0.33L0.95,-0.31L0.38,0.12L0.59,0.81L0,0.4L-0.59,0.81L-0.38,0.12L-0.95,-0.31L-0.24,-0.33Z", "size": 70, "filled": false, "stroke": "#555", "strokeWidth": 1.2},
     "encoding": {"x": {"field": "x", "type": "quantitative"}, "y": {"field": "y", "type": "quantitative"}}
    },
    {
     "data": {"name": "zeros"},
     "mark": {"type": "point", "shape": "triangle-up", "size": 50, "filled": true, "fill": "#f7f7f7", "stroke": "#111", "strokeWidth": 1.5, "yOffset": 3, "opacity": 1},
     "encoding": {"x": {"field": "x", "type": "quantitative"}, "y": {"field": "y", "type": "quantitative"}}
    },
    {
     "data": {"name": "botText"},
     "transform": [{"filter": "datum.k == 'f'"}],
     "mark": {"type": "text", "align": "left", "baseline": "alphabetic", "font": "Liberation Serif", "fontStyle": "italic", "fontSize": 23, "color": "#111"},
     "encoding": {"x": {"field": "x", "type": "quantitative"}, "y": {"field": "y", "type": "quantitative"}, "text": {"field": "t", "type": "nominal"}}
    },
    {
     "data": {"name": "botText"},
     "transform": [{"filter": "datum.k == 'sub'"}],
     "mark": {"type": "text", "align": "left", "baseline": "alphabetic", "font": "Liberation Serif", "fontStyle": "italic", "fontSize": 15, "color": "#111"},
     "encoding": {"x": {"field": "x", "type": "quantitative"}, "y": {"field": "y", "type": "quantitative"}, "text": {"field": "t", "type": "nominal"}}
    },
    {
     "data": {"name": "botText"},
     "transform": [{"filter": "datum.k == 'b'"}],
     "mark": {"type": "text", "align": "left", "baseline": "alphabetic", "font": "DejaVu Serif", "fontWeight": "bold", "fontSize": 19, "color": "#111"},
     "encoding": {"x": {"field": "x", "type": "quantitative"}, "y": {"field": "y", "type": "quantitative"}, "text": {"field": "t", "type": "nominal"}}
    },
    {
     "data": {"name": "botText"},
     "transform": [{"filter": "datum.k == 'w'"}],
     "mark": {"type": "text", "align": "left", "baseline": "alphabetic", "font": "DejaVu Serif", "fontWeight": "bold", "fontSize": 21, "color": "#111"},
     "encoding": {"x": {"field": "x", "type": "quantitative"}, "y": {"field": "y", "type": "quantitative"}, "text": {"field": "t", "type": "nominal"}}
    },
    {
     "data": {"name": "botText"},
     "transform": [{"filter": "datum.k == 'r'"}],
     "mark": {"type": "text", "align": "left", "baseline": "alphabetic", "font": "DejaVu Serif", "fontSize": 19, "color": "#111"},
     "encoding": {"x": {"field": "x", "type": "quantitative"}, "y": {"field": "y", "type": "quantitative"}, "text": {"field": "t", "type": "nominal"}}
    }
   ]
  }
 ]
}
